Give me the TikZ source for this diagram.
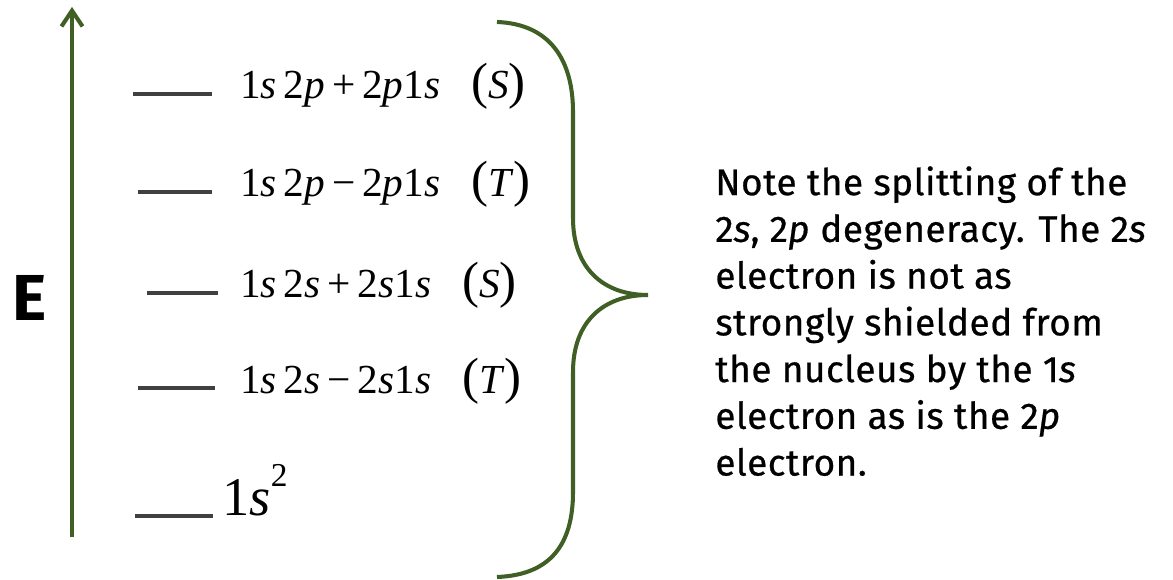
\documentclass[tikz,border=0pt]{standalone}
\usepackage{fontspec}
\usetikzlibrary{arrows.meta}
\newfontfamily\notefont{Fira Sans}[LetterSpace=1.5,UprightFeatures={FakeBold=0.6},ItalicFeatures={FakeBold=0.6}]
\newfontfamily\levelfont{Liberation Serif}
\definecolor{FigureGreen}{HTML}{3F5F25}
\definecolor{FigureGray}{HTML}{404040}
\newcommand{\spin}[1]{{\fontsize{29}{30}\selectfont(}\textit{#1}{\fontsize{29}{30}\selectfont)}}

\begin{document}
\begin{tikzpicture}[x=0.02cm,y=-0.02cm,
    level/.style={FigureGray,line width=2.3pt},
    lbl/.style={anchor=base west,inner sep=0pt,font=\levelfont\fontsize{23.5}{27}\selectfont},
    note/.style={anchor=north west,inner sep=0pt,align=left,font=\notefont\fontsize{21}{26.6}\selectfont}]
  \useasboundingbox (0,0) rectangle (1173,580);
  % energy axis
  \coordinate (Ebot) at (72,537); \coordinate (Etop) at (72,7);
  \draw[FigureGreen,line width=2.3pt,-{Straight Barb[length=9pt,width=12pt]}] (Ebot)--(Etop);
  \node[font=\notefont\bfseries\fontsize{37}{40}\selectfont] (E) at (30,298) {E};
  % levels
  \draw[level] (133,94)--(212,94);
  \draw[level] (138,192)--(212,192);
  \draw[level] (147,293)--(218,293);
  \draw[level] (138,388)--(215,388);
  \draw[level] (135,516)--(213,516);
  \node[lbl] (pS) at (240,99) {1\textit{s}\,2\textit{p}\,+\,2\textit{p}1\textit{s}\hspace{.75em}\spin{S}};
  \node[lbl] (pT) at (240,197) {1\textit{s}\,2\textit{p}\,−\,2\textit{p}1\textit{s}\hspace{.75em}\spin{T}};
  \node[lbl] (sS) at (240,298) {1\textit{s}\,2\textit{s}\,+\,2\textit{s}1\textit{s}\hspace{.75em}\spin{S}};
  \node[lbl] (sT) at (240,394) {1\textit{s}\,2\textit{s}\,−\,2\textit{s}1\textit{s}\hspace{.75em}\spin{T}};
  \node[lbl,font=\levelfont\fontsize{31}{35}\selectfont] (gs) at (222,516) {1\textit{s}\raisebox{.55em}{\fontsize{19}{20}\selectfont 2}};
  % brace
  \coordinate (Btop) at (497,22); \coordinate (Btip) at (648,295); \coordinate (Bbot) at (497,577);
  \draw[FigureGreen,line width=2.3pt] (Btop) .. controls (550,24) and (573,60) .. (573,112) -- (573,218)
    .. controls (573,268) and (603,295) .. (Btip) .. controls (603,295) and (573,322) .. (573,372)
    -- (573,492) .. controls (573,545) and (550,575) .. (Bbot);
  \node[note] (txt) at (715,166) {Note the splitting of the\\2\textit{s}, 2\textit{p} degeneracy. The 2\textit{s}\\electron is not as\\strongly shielded from\\the nucleus by the 1\textit{s}\\electron as is the 2\textit{p}\\electron.};
\end{tikzpicture}
\end{document}
